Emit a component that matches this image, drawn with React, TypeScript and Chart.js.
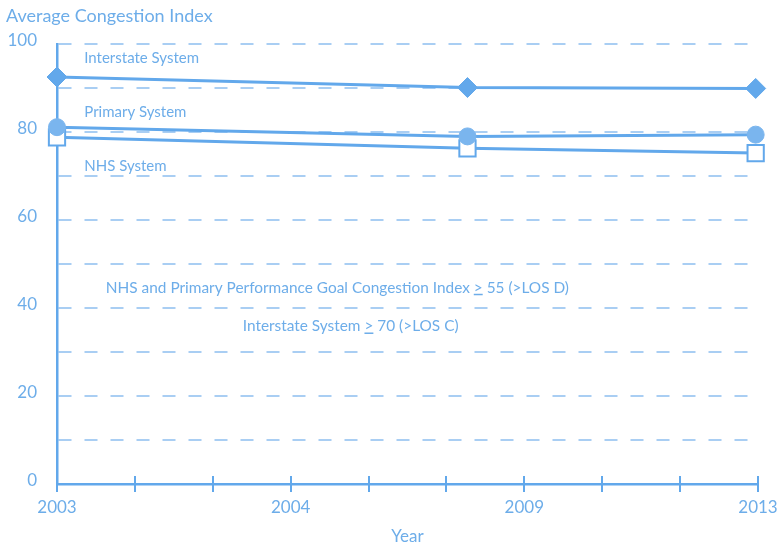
import React, { useEffect, useRef } from 'react';
import { Chart, registerables } from 'chart.js';

Chart.register(...registerables);

// Survey points along the year axis (axis runs 0..9 in equal steps)
const surveyPositions = [0, 5.27, 8.97];
const interstateIndex = [92.5, 90.1, 89.9];
const primaryIndex = [81.1, 79.0, 79.4];
const nhsIndex = [78.8, 76.3, 75.2];

const seriesNames = ['Interstate System', 'Primary System', 'NHS System'];
const yearLabels = ['2003', '', '', '2004', '', '', '2009', '', '', '2013'];
const labelledValues = [0, 20, 40, 60, 80, 100];
const goalValues = [55, 70];

const TEXT = '#6dade9';
const LINE = '#62a8eb';
const GRID = '#a9cef3';
const FONT = 'Lato, "Open Sans", sans-serif';

function drawParts(ctx: CanvasRenderingContext2D, parts: string[], x: number, y: number) {
  // odd-indexed parts are underlined
  const widths = parts.map((p) => ctx.measureText(p).width);
  const total = widths.reduce((a, b) => a + b, 0);
  let cx = x - total / 2;
  parts.forEach((p, i) => {
    ctx.fillText(p, cx, y);
    if (i % 2 === 1) ctx.fillRect(cx, y + 6, widths[i], 1.5);
    cx += widths[i];
  });
}

const notesPlugin = {
  id: 'notes',
  beforeDatasetsDraw(chart: any) {
    const { ctx, scales } = chart;
    const xs = scales.x;
    const ys = scales.y;
    // tick marks crossing the year axis
    ctx.save();
    ctx.strokeStyle = LINE;
    ctx.lineWidth = 2;
    xs.ticks.forEach((t: any) => {
      const px = Math.round(xs.getPixelForValue(t.value));
      ctx.beginPath();
      ctx.moveTo(px, ys.bottom - 8);
      ctx.lineTo(px, ys.bottom + 8);
      ctx.stroke();
    });
    ctx.restore();
  },
  afterDraw(chart: any) {
    const { ctx, scales } = chart;
    const xs = scales.x;
    const ys = scales.y;
    ctx.save();
    ctx.fillStyle = TEXT;
    ctx.textBaseline = 'middle';

    ctx.font = `18px ${FONT}`;
    ctx.textAlign = 'left';
    ctx.fillText('Average Congestion Index', 6, 16);

    ctx.font = `15px ${FONT}`;
    ctx.fillText(seriesNames[0], xs.getPixelForValue(0.35), ys.getPixelForValue(96.8));
    ctx.fillText(seriesNames[1], xs.getPixelForValue(0.35), ys.getPixelForValue(84.4));
    ctx.fillText(seriesNames[2], xs.getPixelForValue(0.35), ys.getPixelForValue(72.3));

    ctx.font = `15.4px ${FONT}`;
    drawParts(
      ctx,
      ['NHS and Primary Performance Goal Congestion Index ', '>', ` ${goalValues[0]} (>LOS D)`],
      xs.getPixelForValue(3.6),
      ys.getPixelForValue(44.6)
    );
    drawParts(
      ctx,
      ['Interstate System ', '>', ` ${goalValues[1]} (>LOS C)`],
      xs.getPixelForValue(3.77),
      ys.getPixelForValue(35.8)
    );
    ctx.restore();
  },
};

export default function App() {
  const ref = useRef<HTMLCanvasElement>(null);

  useEffect(() => {
    if (!ref.current) return;
    const pts = (vals: number[]) => surveyPositions.map((x, i) => ({ x, y: vals[i] }));
    const chart = new Chart(ref.current, {
      type: 'line',
      data: {
        datasets: [
          {
            label: seriesNames[1],
            data: pts(primaryIndex),
            borderColor: LINE,
            borderWidth: 3,
            pointStyle: 'circle',
            pointRadius: 8.5,
            pointBackgroundColor: '#7ab5ee',
            pointBorderColor: '#7ab5ee',
            pointBorderWidth: 1,
            clip: false,
            order: 0,
          },
          {
            label: seriesNames[2],
            data: pts(nhsIndex),
            borderColor: LINE,
            borderWidth: 3,
            pointStyle: 'rect',
            pointRadius: 11.5,
            pointBackgroundColor: '#ffffff',
            pointBorderColor: LINE,
            pointBorderWidth: 2,
            clip: false,
            order: 1,
          },
          {
            label: seriesNames[0],
            data: pts(interstateIndex),
            borderColor: LINE,
            borderWidth: 3,
            pointStyle: 'rectRot',
            pointRadius: 10,
            pointBackgroundColor: LINE,
            pointBorderColor: LINE,
            pointBorderWidth: 1,
            clip: false,
            order: 2,
          },
        ],
      },
      options: {
        animation: false,
        responsive: false,
        layout: { padding: { top: 44, right: 20, left: 0, bottom: 0 } },
        plugins: { legend: { display: false }, tooltip: { enabled: false } },
        scales: {
          x: {
            type: 'linear',
            min: 0,
            max: 9,
            afterFit: (s: any) => {
              s.height = 63;
            },
            grid: {
              display: true,
              drawOnChartArea: false,
              drawTicks: true,
              tickLength: 13,
              tickColor: 'rgba(0,0,0,0)',
              tickWidth: 0,
            },
            border: { display: true, color: LINE, width: 2.5 },
            ticks: {
              stepSize: 1,
              autoSkip: false,
              maxRotation: 0,
              padding: 0,
              color: TEXT,
              font: { family: FONT, size: 17 },
              callback: (v: any) => yearLabels[v] ?? '',
            },
            title: {
              display: true,
              text: 'Year',
              color: TEXT,
              font: { family: FONT, size: 17 },
              padding: { top: 6, bottom: 0 },
            },
          },
          y: {
            min: 0,
            max: 100,
            afterFit: (s: any) => {
              s.width = 57;
            },
            grid: {
              color: GRID,
              lineWidth: (c: any) => (c.tick && c.tick.value === 0 ? 0 : 2),
              drawTicks: false,
            },
            border: { display: true, color: LINE, width: 2.5, dash: [13, 13] },
            ticks: {
              stepSize: 10,
              padding: 20,
              labelOffset: -3,
              color: TEXT,
              font: { family: FONT, size: 17 },
              callback: (v: any) => (labelledValues.includes(v) ? String(v) : ''),
            },
          },
        },
      },
      plugins: [notesPlugin],
    });
    return () => chart.destroy();
  }, []);

  return (
    <div style={{ position: 'fixed', left: 0, top: 0, width: 778, height: 547, background: '#fff' }}>
      <canvas ref={ref} width={778} height={547} />
    </div>
  );
}
